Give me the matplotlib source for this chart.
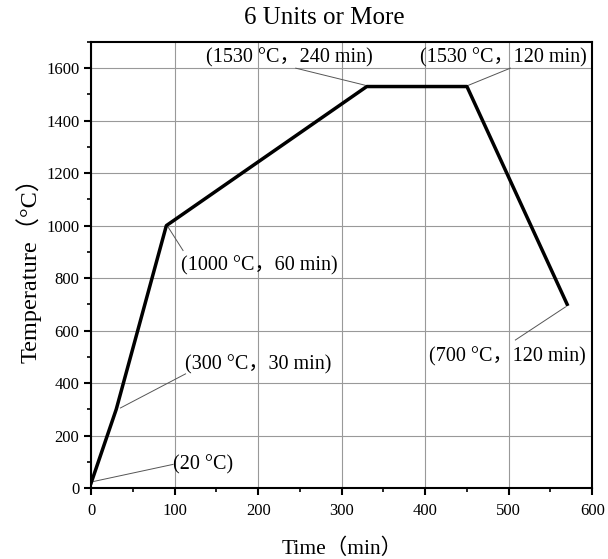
import matplotlib
matplotlib.use('Agg')
import matplotlib.pyplot as plt
from matplotlib.ticker import MultipleLocator

# heating curve: time (min) vs temperature (C)
time = [0, 30, 90, 330, 450, 570]
temp = [20, 300, 1000, 1530, 1530, 700]

# annotation labels, leader-line start (on curve) and text anchor (data coords)
labels = ['(20 °C)', '(300 °C，30 min)', '(1000 °C，60 min)',
          '(1530 °C，240 min)', '(1530 °C，120 min)', '(700 °C，120 min)']
point_x = [3, 35, 92, 328, 452, 568]
point_y = [25, 305, 995, 1535, 1535, 690]
text_x = [98, 112, 107, 137, 394, 404]
text_y = [88, 469, 846, 1638, 1638, 499]
line_end_x = [98, 113, 110, 245, 502, 508]
line_end_y = [90, 435, 905, 1600, 1600, 564]

fonts = ['Liberation Serif', 'Noto Sans CJK SC']
plt.rcParams['font.family'] = fonts

fig = plt.figure(figsize=(6.08, 5.59), dpi=100)
ax = fig.add_axes([0.150, 0.127, 0.824, 0.798])

ax.plot(time, temp, color='black', lw=2.5, zorder=3)

for i in range(len(labels)):
    ax.plot([point_x[i], line_end_x[i]], [point_y[i], line_end_y[i]],
            color='#555555', lw=0.7, zorder=2)
    ax.text(text_x[i], text_y[i], labels[i], fontsize=14.5, va='center', ha='left',
            family=fonts, zorder=4)

ax.set_xlim(0, 600)
ax.set_ylim(0, 1700)
ax.xaxis.set_major_locator(MultipleLocator(100))
ax.xaxis.set_minor_locator(MultipleLocator(50))
ax.yaxis.set_major_locator(MultipleLocator(200))
ax.yaxis.set_minor_locator(MultipleLocator(100))
ax.grid(True, which='major', color='#999999', lw=0.8)
ax.set_axisbelow(True)
ax.tick_params(which='major', direction='out', length=5, width=1.5, labelsize=12)
ax.tick_params(axis='x', which='major', pad=6)
ax.tick_params(which='minor', direction='out', length=3, width=1.2)
for s in ax.spines.values():
    s.set_linewidth(1.5)

ax.set_xlabel('Time（min）', fontsize=15.5, family=fonts, labelpad=14)
ax.set_ylabel('Temperature（°C）', fontsize=17.5, family=fonts, labelpad=3)
ax.set_title('6 Units or More', fontsize=18, family=fonts, pad=13, x=0.465)

plt.savefig('out.png', dpi=100)
